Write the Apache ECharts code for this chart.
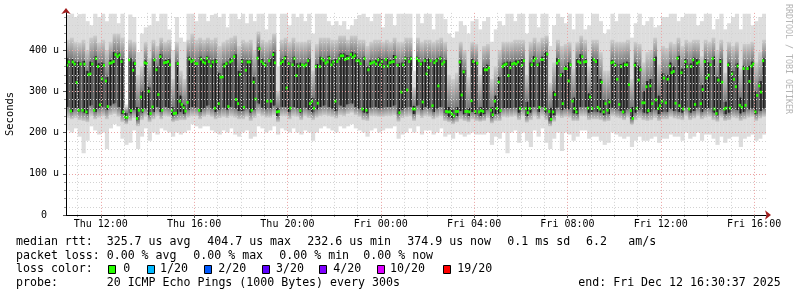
<!DOCTYPE html>
<html><head><meta charset="utf-8">
<script src="https://cdn.jsdelivr.net/npm/echarts@6/dist/echarts.min.js"></script>
<style>html,body{margin:0;padding:0;background:#fff}#c{width:797px;height:297px}</style>
</head><body><div id="c"></div>
<script>
// ---- axis ticks (hours counted from Thu 00:00) ----
const xLabelHours = [12,16,20,24,28,32,36,40];
const xMinorHours = [11,13,14,15,17,18,19,21,22,23,25,26,27,29,30,31,33,34,35,37,38,39];
const yLabelValues = [0,100,200,300,400];
const yMinorValues = [20,40,60,80,120,140,160,180,220,240,260,280,320,340,360,380,420,440,460,480];

// ---- median rtt per 5-minute step (microseconds) ----
const medians = [
363,371,252,371,366,321,254,366,254,366,250,340,342,366,254,379,360,267,330,363,
325,263,368,369,372,389,384,388,372,250,237,237,376,253,351,367,234,254,286,254,
369,367,300,246,262,376,352,292,384,254,369,370,372,364,254,246,247,367,276,268,
260,252,273,378,372,375,367,367,254,378,371,368,
380,372,361,371,259,372,270,334,335,361,367,263,371,374,384,280,270,340,372,261,
351,371,371,254,322,281,380,403,372,367,363,276,374,276,389,369,250,251,368,372,
380,308,367,259,364,379,338,361,253,364,361,364,374,270,276,259,360,271,360,379,
375,368,371,380,364,371,276,372,379,386,386,377,
379,380,389,382,386,374,374,367,257,379,254,352,367,369,371,366,376,364,372,360,
377,361,369,371,372,382,363,248,298,364,379,303,372,379,257,257,379,374,366,274,
374,342,358,374,265,369,374,313,379,366,371,251,250,250,245,240,251,251,371,291,
347,251,251,250,277,372,251,368,250,253,251,352,
352,357,254,243,276,258,322,253,360,364,366,338,357,366,368,366,371,258,363,374,
258,248,258,364,374,379,364,261,377,377,257,390,251,232,250,292,368,374,339,270,
355,355,325,364,276,258,250,372,369,384,371,372,259,286,258,377,372,261,257,322,
250,270,254,274,369,371,363,329,268,360,250,364,
364,316,253,234,363,258,327,352,272,272,311,253,313,270,377,279,258,265,276,332,
272,329,361,345,348,271,380,265,345,257,372,360,257,360,376,268,368,371,270,304,
372,332,339,364,379,257,246,327,372,322,257,259,364,259,342,329,311,361,266,261,
355,266,355,324,361,366,250,290,313,298,374
];

// ---- smoke per 10-minute column (microseconds) ----
const smokeMin = [
205,200,210,190,150,180,215,205,195,200,160,210,220,215,185,170,175,205,160,190,210,180,200,195,210,205,200,190,200,195,200,205,220,215,210,215,
215,205,200,195,205,200,210,195,190,200,205,185,190,215,210,200,205,215,195,210,205,200,210,200,195,205,200,180,200,210,215,210,205,200,215,210,
215,220,210,205,200,190,205,210,200,205,210,210,215,185,195,200,210,200,215,195,205,205,195,200,210,190,195,185,200,195,190,195,200,195,195,195,
200,170,190,185,200,150,200,205,175,200,180,165,205,190,210,175,160,185,200,155,200,195,180,190,205,205,185,190,190,180,170,175,200,195,190,185,
190,165,180,190,180,180,185,190,175,185,185,195,190,190,180,200,185,190,200,180,195,195,185,170,190,175,185,190,190,165,185,190,195,180,185,195
];
const smokeLo = [
235,232,235,230,228,225,240,232,236,240,232,242,245,238,225,220,228,235,215,230,238,225,232,240,232,240,238,225,228,230,230,236,240,240,232,238,
242,238,232,235,238,235,240,236,232,232,238,228,235,245,240,236,236,242,225,240,240,232,240,238,230,240,235,230,236,240,242,240,238,234,242,240,
245,248,242,238,230,228,240,240,238,238,240,240,242,226,235,238,240,228,242,235,240,238,232,236,240,228,225,220,225,232,228,225,232,228,226,228,
235,222,228,228,238,236,238,240,230,240,224,230,240,232,240,230,215,226,240,235,238,236,228,228,240,240,230,232,232,230,226,228,240,236,234,230,
236,218,230,235,230,228,230,235,228,232,232,238,234,232,230,240,230,234,240,232,236,238,230,226,236,228,230,236,234,228,232,236,238,228,234,238
];
const smokeCoreLo = [
262,250,258,250,248,245,265,250,258,262,255,265,270,262,245,232,246,255,230,248,258,242,250,262,250,262,258,240,244,250,245,255,262,260,250,258,
265,258,250,255,260,255,262,258,252,252,258,248,255,270,260,256,258,265,240,262,262,250,262,258,248,260,255,248,256,262,265,262,258,252,265,262,
268,270,262,258,248,246,260,262,258,260,262,262,265,244,255,260,262,245,265,255,262,258,250,258,262,246,238,234,240,252,244,240,250,245,240,244,
255,236,245,246,258,258,258,260,248,260,240,248,262,250,262,248,228,242,260,254,258,256,246,244,262,262,248,250,250,248,242,245,260,256,252,246,
256,232,248,255,248,246,250,255,245,250,250,258,252,250,248,260,248,252,260,250,256,258,248,242,256,244,248,256,254,246,250,256,258,244,252,258
];
const smokeCoreHi = [
380,378,372,372,374,350,372,385,368,370,335,376,395,394,378,248,380,372,262,300,375,310,380,360,390,376,378,262,372,290,268,384,380,372,384,378,
385,376,378,345,368,372,380,390,350,378,376,376,335,408,378,370,380,395,260,378,386,372,384,368,370,370,380,285,366,384,380,386,376,378,392,392,
388,395,392,380,384,360,375,376,382,378,382,376,388,368,370,384,384,265,384,372,380,380,375,380,384,376,262,256,262,376,352,260,378,372,262,358,
365,262,290,335,370,372,372,375,376,380,275,370,385,370,384,395,260,300,380,345,362,370,285,378,390,378,295,382,378,330,280,282,376,368,366,370,
372,262,370,362,300,325,330,384,290,345,340,370,360,386,355,378,368,382,378,315,378,370,384,335,378,275,370,350,368,285,362,362,372,300,325,380
];
const smokeHi = [
425,430,420,418,425,400,430,435,418,425,400,420,440,440,430,262,425,420,340,360,420,380,425,410,430,420,425,330,420,350,330,425,440,425,430,425,
430,425,430,410,420,425,430,435,410,425,420,425,400,445,425,420,425,440,300,425,430,420,430,420,420,420,425,350,415,430,430,430,425,425,435,435,
425,435,435,425,425,410,420,425,425,420,425,420,430,420,420,430,430,310,430,420,425,425,420,425,430,420,340,330,345,420,400,335,420,415,340,410,
415,330,360,400,420,420,420,425,425,425,340,420,430,420,430,435,320,370,425,410,415,420,355,420,435,425,360,425,425,395,350,350,425,420,420,420,
425,330,420,415,370,395,400,430,365,410,405,420,415,430,410,425,420,425,425,385,425,420,430,400,425,345,420,410,420,355,415,415,420,370,395,425
];
const smokeMax = [
485,488,480,487,488,470,460,488,480,488,470,488,488,465,488,268,486,480,395,440,455,460,488,470,488,488,450,400,480,430,420,488,488,470,488,488,
470,485,488,480,488,455,488,488,475,488,465,488,470,488,488,450,488,488,360,488,488,460,488,480,488,470,488,440,488,488,488,470,460,470,460,470,
450,460,475,485,488,480,470,488,488,455,488,488,460,488,488,488,488,350,488,465,488,488,450,488,488,475,440,430,445,470,460,440,470,475,450,470,
480,420,450,470,460,488,488,470,488,488,440,488,488,455,488,488,410,460,488,480,465,488,450,488,488,450,460,488,488,470,440,450,488,470,488,488,
488,430,465,488,460,470,480,455,460,480,480,488,488,470,480,488,488,488,460,470,488,488,450,475,488,450,465,480,488,450,488,488,460,470,480,488
];

// ---- legend texts ----
const statsRtt = ['325.7 us avg','404.7 us max','232.6 us min','374.9 us now','0.1 ms sd','6.2','am/s'];
const statsLoss = ['0.00 % avg','0.00 % max','0.00 % min','0.00 % now'];
const lossLabels = ['0','1/20','2/20','3/20','4/20','10/20','19/20'];
const lossColors = ['#26ff00','#00b8ff','#0059ff','#5e00ff','#7e00ff','#dd00ff','#ff0000'];
const probeText = '20 ICMP Echo Pings (1000 Bytes) every 300s';
const endText = 'end: Fri Dec 12 16:30:37 2025';

// ---- build ----
const HOURS_START = 10 + 30/60 + 37/3600;
const HOURS_END = HOURS_START + 30;
const STEP_H = 5/60;
const MONO = '"DejaVu Sans Mono", monospace';

const smokeData = smokeMin.map((_, j) => [
  HOURS_START + 2*j*STEP_H, HOURS_START + (2*j+2)*STEP_H,
  smokeMin[j], smokeLo[j], smokeCoreLo[j], smokeCoreHi[j], smokeHi[j], smokeMax[j]
]);
const medianData = medians.map((v, i) => [HOURS_START + (i + 0.5)*STEP_H, v]);

const gradUp = () => new echarts.graphic.LinearGradient(0,0,0,1,[{offset:0,color:'#cdcdcd'},{offset:1,color:'#7a7a7a'}]);
const gradDown = () => new echarts.graphic.LinearGradient(0,0,0,1,[{offset:0,color:'#7a7a7a'},{offset:1,color:'#cdcdcd'}]);
const streakShift = [0.2, 2.0, 1.0];

function renderSmoke(params, api) {
  const xa = api.coord([api.value(0), 0])[0];
  const xb = api.coord([api.value(1), 0])[0];
  const yOf = v => api.coord([api.value(0), v])[1];
  const yMin = yOf(api.value(2)), yLo = yOf(api.value(3)), yCl = yOf(api.value(4)),
        yCh = yOf(api.value(5)), yHi = yOf(api.value(6)), yMax = yOf(api.value(7));
  const w = xb - xa + 0.3;
  const rect = (x, wd, y1, y2, fill) => ({type:'rect', shape:{x, y: Math.min(y1,y2), width: wd, height: Math.abs(y2-y1)}, style:{fill}});
  return {type:'group', children:[
    rect(xa, w, yMax, yMin, '#dddddd'),
    rect(xa, w, yHi, yCh, gradUp()),
    rect(xa, w, yCl, yLo, gradDown()),
    rect(xa, w, yCh, yCl, '#5a5a5a'),
    rect(xa + streakShift[params.dataIndex % 3], 1.4, yCh, yCl, '#1c1c1c')
  ]};
}

const fmtX = v => (v < 24 ? 'Thu ' : 'Fri ') + String(Math.round(v) % 24).padStart(2,'0') + ':00';
const fmtY = v => v === 0 ? '0  ' : v + ' u';

const legendFont = '11.6px ' + MONO;
const txt = (x, y, text) => ({type:'text', x, y, silent:true,
  style:{text, font: legendFont, fill:'#000', align:'left', verticalAlign:'middle'}});
const rowY = [241.8, 255.5, 269.2, 282.9];
const rttX = [106.7, 207.3, 307.3, 407.3, 507.3, 586, 628.3];
const lossX = [106.7, 193.3, 279.3, 363.3];
const boxX = [108.3, 146.7, 204, 262, 319.3, 377.3, 442.7];
const boxLabelX = [123.3, 160, 218.3, 276, 333.3, 390, 457.3];

const elements = [];
elements.push(txt(16, rowY[0], 'median rtt:'));
statsRtt.forEach((s, k) => elements.push(txt(rttX[k], rowY[0], s)));
elements.push(txt(16, rowY[1], 'packet loss:'));
statsLoss.forEach((s, k) => elements.push(txt(lossX[k], rowY[1], s)));
elements.push(txt(16, rowY[2], 'loss color:'));
lossLabels.forEach((s, k) => {
  elements.push({type:'rect', silent:true, shape:{x: Math.round(boxX[k]) + 0.5, y: 265.5, width: 7, height: 8},
    style:{fill: lossColors[k], stroke:'#000', lineWidth:1}});
  elements.push(txt(boxLabelX[k], rowY[2], s));
});
elements.push(txt(16, rowY[3], 'probe:'));
elements.push(txt(106.7, rowY[3], probeText));
elements.push(txt(578.3, rowY[3], endText));
elements.push({type:'text', x: 788, y: 4, rotation: -Math.PI/2, silent:true,
  style:{text:'RRDTOOL / TOBI OETIKER', font:'8.3px ' + MONO, fill:'#b4b4b4', align:'left', verticalAlign:'middle'}});

const chart = echarts.init(document.getElementById('c'), null, {renderer:'canvas'});
chart.setOption({
  animation: false,
  backgroundColor: '#fff',
  grid: {left: 66, top: 12.9, width: 700, height: 202.1, containLabel: false, outerBoundsMode: 'none'},
  xAxis: [
    {type:'value', min: HOURS_START, max: HOURS_END, position:'bottom', z: 10,
     axisLine:{show:true, onZero:false, lineStyle:{color:'#000', width:1}},
     axisTick:{show:true, length:3, customValues: xLabelHours, lineStyle:{color:'#555'}},
     axisLabel:{show:true, customValues: xLabelHours, formatter: fmtX, margin:4,
       fontFamily: MONO, fontSize:10, color:'#000'},
     splitLine:{show:true, lineStyle:{color:'#eba2a2', type:[1,2], width:1}}},
    {type:'value', min: HOURS_START, max: HOURS_END, position:'bottom', z: 9,
     axisLine:{show:true, onZero:false, symbol:['none','arrow'], symbolSize:[7,6], symbolOffset:[0,5],
       lineStyle:{color:'#a11d1d', width:0}},
     axisTick:{show:true, length:2, customValues: xMinorHours, lineStyle:{color:'#999'}},
     axisLabel:{show:false},
     splitLine:{show:true, lineStyle:{color:'#d2d2d2', type:[1,2], width:1}}}
  ],
  yAxis: [
    {type:'value', min:0, max:490, position:'left', z: 10,
     name:'Seconds', nameLocation:'middle', nameGap:50, nameRotate:90,
     nameTextStyle:{fontFamily: MONO, fontSize:10.5, color:'#000'},
     axisLine:{show:true, onZero:false, lineStyle:{color:'#000', width:1}},
     axisTick:{show:true, length:3, customValues: yLabelValues, lineStyle:{color:'#555'}},
     axisLabel:{show:true, customValues: yLabelValues, formatter: fmtY, margin:7,
       fontFamily: MONO, fontSize:10, color:'#000'},
     splitLine:{show:true, lineStyle:{color:'#eba2a2', type:[1,2], width:1}}},
    {type:'value', min:0, max:490, position:'left', z: 9,
     axisLine:{show:true, onZero:false, symbol:['none','arrow'], symbolSize:[7,6], symbolOffset:[0,5],
       lineStyle:{color:'#a11d1d', width:0}},
     axisTick:{show:true, length:2, customValues: yMinorValues, lineStyle:{color:'#999'}},
     axisLabel:{show:false},
     splitLine:{show:true, lineStyle:{color:'#d2d2d2', type:[1,2], width:1}}}
  ],
  series: [
    {type:'custom', xAxisIndex:0, yAxisIndex:0, renderItem: renderSmoke, data: smokeData,
     encode:{x:[0,1], y:[2,3,4,5,6,7]}, clip:true, silent:true, z:2},
    {type:'scatter', xAxisIndex:0, yAxisIndex:0, data: medianData, symbol:'rect', symbolSize:[2.2,2.8],
     itemStyle:{color:'#26ff00', opacity:1}, silent:true, z:3}
  ],
  graphic: {elements}
});
</script>
</body></html>
